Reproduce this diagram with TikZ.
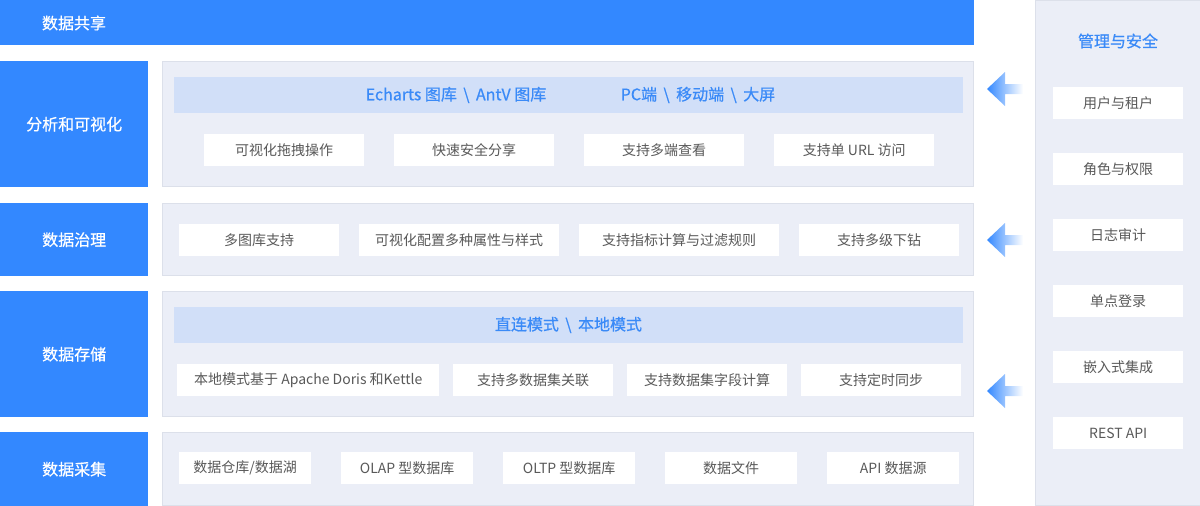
\documentclass[tikz,border=0pt]{standalone}
\usepackage{fontspec}
\setmainfont{Noto Sans CJK SC}
\newfontfamily\medfont[FakeBold=0.6]{Noto Sans CJK SC}
\definecolor{mainblue}{HTML}{3388FF}
\definecolor{panelgray}{HTML}{EBEEF7}
\definecolor{panelline}{HTML}{DCE0EA}
\definecolor{bandblue}{HTML}{D1DFF8}
\definecolor{textblue}{HTML}{3A8AF7}
\definecolor{textgray}{HTML}{595959}
\newcommand{\bsl}{\hspace{0.4em}\textbackslash\hspace{0.4em}}
\begin{document}
\begin{tikzpicture}[x=1pt,y=-1pt,
		layer/.style={fill=mainblue,text=white,inner sep=0pt,font=\medfont\fontsize{16}{18}\selectfont},
		panel/.style={fill=panelgray,draw=panelline,line width=1pt},
		band/.style={fill=bandblue,inner sep=0pt,minimum height=36pt,minimum width=789pt,anchor=north west},
		bandtext/.style={text=textblue,inner sep=0pt,font=\medfont\fontsize{16}{18}\selectfont},
		item/.style={fill=white,text=textgray,inner sep=0pt,minimum height=32pt,anchor=north west,font=\fontsize{14}{16}\selectfont}]
		\useasboundingbox (0,0) rectangle (1200,506);
		% top bar
		\fill[mainblue] (0,0) rectangle (974,45);
		\node[layer] (share) at (74,23) {数据共享};
		% layers on the left
		\foreach \y/\h/\t/\n in {61/126/分析和可视化/ana,203/73/数据治理/gov,291/126/数据存储/sto,432/74/数据采集/col}{
			\node[layer,anchor=north west,minimum width=148pt,minimum height={\h pt}] (\n) at (0,\y) {\t};
			\draw[panel] (162.5,\y+0.5) rectangle (973.5,{\y+\h-0.5});
		}
		% bands
		\node[band] (bandana) at (174,77) {};
		\node[bandtext] (charts) at (456,95) {Echarts 图库\bsl AntV 图库};
		\node[bandtext] (screens) at (698,95) {PC端\bsl 移动端\bsl 大屏};
		\node[band] (bandsto) at (174,307) {};
		\node[bandtext] (modes) at (568.5,325) {直连模式\bsl 本地模式};
		% items
		\foreach \x/\t/\n in {204/可视化拖拽操作/a1,394/快速安全分享/a2,584/支持多端查看/a3,774/支持单 URL 访问/a4}{
			\node[item,minimum width=160pt] (\n) at (\x,134) {\t};
		}
		\foreach \x/\w/\t/\n in {179/160/多图库支持/g1,359/200/可视化配置多种属性与样式/g2,579/200/支持指标计算与过滤规则/g3,799/160/支持多级下钻/g4}{
			\node[item,minimum width={\w pt}] (\n) at (\x,224) {\t};
		}
		\foreach \x/\w/\t/\n in {177/262/本地模式基于 Apache Doris 和Kettle/s1,453/160/支持多数据集关联/s2,627/160/支持数据集字段计算/s3,801/160/支持定时同步/s4}{
			\node[item,minimum width={\w pt}] (\n) at (\x,364) {\t};
		}
		\foreach \x/\t/\n in {179/{数据仓库/数据湖}/c1,341/OLAP 型数据库/c2,503/OLTP 型数据库/c3,665/数据文件/c4,827/API 数据源/c5}{
			\node[item,minimum width=132pt] (\n) at (\x,452) {\t};
		}
		% management and security
		\draw[panel] (1035.5,0.5) rectangle (1200.5,505.5);
		\node[bandtext] (safe) at (1118,41) {管理与安全};
		\foreach \y/\t/\n in {87/用户与租户/m1,153/角色与权限/m2,219/日志审计/m3,285/单点登录/m4,351/嵌入式集成/m5,417/REST API/m6}{
			\node[item,minimum width=130pt] (\n) at (1053,\y) {\t};
		}
		% arrows
		\foreach \y in {89,240,391}{
			\shade[left color=mainblue,middle color=mainblue!75,right color=white] (987,\y) -- (1005,\y-17) -- (1005,\y-5) -- (1023,\y-5) -- (1023,\y+5) -- (1005,\y+5) -- (1005,\y+17) -- cycle;
		}
\end{tikzpicture}
\end{document}
